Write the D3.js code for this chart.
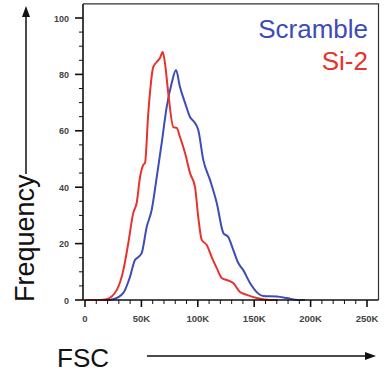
<!DOCTYPE html>
<html><head><meta charset="utf-8">
<script src="https://cdn.jsdelivr.net/npm/d3@7"></script>
<style>body{margin:0;background:#fff}svg{display:block}</style>
</head><body>
<script>
// Data (FSC in thousands, frequency)
const scrambleFSC = [0,17.7,25.1,34,39.9,44.3,47.3,50.3,54.7,59.1,63.6,68,72.4,76.9,80.7,84.2,88.7,93.1,97.5,100.4,104.9,110.8,116.8,122.6,127,131.5,135.9,140.3,146.3,152.2,158.1,170,178.8,188.8,195];
const scrambleFreq = [0,0,0.3,2.5,8.2,14.2,15.2,16.7,25.9,31.9,43.6,55.7,68.4,77,81.6,75.5,69.9,64.9,62.8,60.3,49.6,42.6,34.4,23.8,22.3,17.7,13.1,10.6,6,2.8,1.4,1.2,0.7,0,0];
const si2FSC = [0,13.3,19.2,28.1,34,38.4,42.8,45.8,48.8,51.7,53.2,56.1,60.5,63.6,66.5,68.9,70.9,73.8,78.3,81.3,84.2,88.7,93.1,97.5,100.4,103.5,107.9,112.3,116.8,121.2,125.6,131.5,137.4,143.4,152.2,164,171];
const si2Freq = [0,0,0.3,3.5,10.6,20.2,30.9,34.4,43.6,47.9,48.6,66.3,82.6,84.4,85.8,87.9,84,73.4,61.3,61,57.8,52.1,45,40.1,29.4,21.3,19.5,15.2,11.3,7.8,7.1,6,2.8,1.8,0.7,0,0];
const seriesNames = ["Scramble","Si-2"];
const seriesColors = ["#3c4cb8","#e8322c"];
const xTickValues = [0,50,100,150,200,250];
const xTickLabels = ["0","50K","100K","150K","200K","250K"];
const yTickValues = [0,20,40,60,80,100];

const W=385,H=375;
const svg=d3.select("body").append("svg").attr("width",W).attr("height",H);
const x=d3.scaleLinear().domain([0,260]).range([85,378.3]);
const y=d3.scaleLinear().domain([0,105]).range([300,3.9]);
const font="'Liberation Sans', Arial, sans-serif";

// frame
svg.append("path").attr("d",`M83,${y(105)}H378.5V300`).attr("fill","none").attr("stroke","#333").attr("stroke-width",1.2);

// curves
const line=d3.line().x(d=>x(d[0])).y(d=>y(d[1])).curve(d3.curveMonotoneX);
const series=[d3.zip(scrambleFSC,scrambleFreq), d3.zip(si2FSC,si2Freq)];
series.forEach((s,i)=>{
  svg.append("path").attr("d",line(s)).attr("fill","none").attr("stroke",seriesColors[i]).attr("stroke-width",2).attr("stroke-linejoin","round");
});

// x axis
const xMinor=d3.range(10,260,10).filter(v=>v%50!==0);
const xg=svg.append("g").attr("transform","translate(0,300)");
xg.append("line").attr("x1",83).attr("x2",378.5).attr("stroke","#111").attr("stroke-width",1.6);
xg.selectAll(".mj").data(xTickValues).join("line").attr("x1",d=>x(d)).attr("x2",d=>x(d)).attr("y1",0).attr("y2",7).attr("stroke","#111").attr("stroke-width",1.6);
xg.selectAll(".mn").data(xMinor).join("line").attr("x1",d=>x(d)).attr("x2",d=>x(d)).attr("y1",0).attr("y2",4).attr("stroke","#111").attr("stroke-width",1);
xg.selectAll("text").data(xTickValues).join("text").attr("x",d=>x(d)).attr("y",22).attr("text-anchor","middle")
  .attr("font-family",font).attr("font-size",9.5).attr("font-weight","bold").attr("fill","#444").text((d,i)=>xTickLabels[i]);

// y axis
const yMinor=d3.range(5,105,5).filter(v=>v%20!==0);
const yg=svg.append("g").attr("transform","translate(83,0)");
yg.append("line").attr("y1",y(105)).attr("y2",300).attr("stroke","#111").attr("stroke-width",1.6);
yg.selectAll(".mj").data(yTickValues).join("line").attr("y1",d=>y(d)).attr("y2",d=>y(d)).attr("x1",0).attr("x2",-8).attr("stroke","#111").attr("stroke-width",1.6);
yg.selectAll(".mn").data(yMinor).join("line").attr("y1",d=>y(d)).attr("y2",d=>y(d)).attr("x1",0).attr("x2",-4).attr("stroke","#111").attr("stroke-width",1);
yg.selectAll("text").data(yTickValues).join("text").attr("x",-14).attr("y",d=>y(d)+3.5).attr("text-anchor","end")
  .attr("font-family",font).attr("font-size",9).attr("font-weight","bold").attr("fill","#444").text(d=>d);

// legend
seriesNames.forEach((n,i)=>{
  svg.append("text").attr("x",368).attr("y",38+i*32).attr("text-anchor","end").attr("font-family",font).attr("font-size",26).attr("fill",seriesColors[i]).text(n);
});

// axis titles with arrows
svg.append("text").attr("transform","translate(34,302) rotate(-90)").attr("font-family",font).attr("font-size",27).attr("fill","#111").text("Frequency");
svg.append("line").attr("x1",26).attr("x2",26).attr("y1",174).attr("y2",16).attr("stroke","#111").attr("stroke-width",1.5);
svg.append("path").attr("d","M26,6L22,17L30,17Z").attr("fill","#111");

svg.append("text").attr("x",57).attr("y",367).attr("font-family",font).attr("font-size",26).attr("fill","#111").text("FSC");
svg.append("line").attr("x1",147).attr("x2",366).attr("y1",356).attr("y2",356).attr("stroke","#111").attr("stroke-width",1.5);
svg.append("path").attr("d","M376,356L365,352L365,360Z").attr("fill","#111");
</script>
</body></html>
